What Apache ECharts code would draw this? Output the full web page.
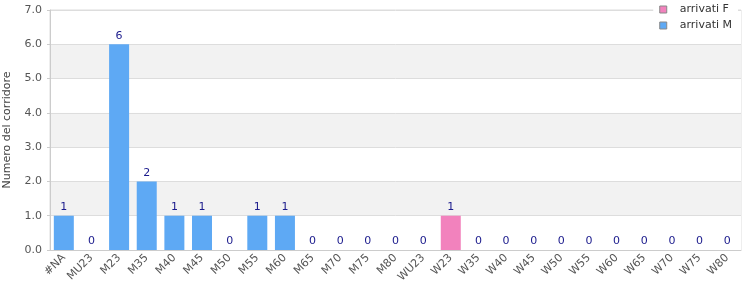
<!DOCTYPE html>
<html><head><meta charset="utf-8">
<script src="https://cdn.jsdelivr.net/npm/echarts@6/dist/echarts.min.js"></script>
<style>html,body{margin:0;padding:0;background:#fff}#c{width:750px;height:300px}</style>
</head><body><div id="c"></div>
<script>
var categories = ['#NA','MU23','M23','M35','M40','M45','M50','M55','M60','M65','M70','M75','M80','WU23','W23','W35','W40','W45','W50','W55','W60','W65','W70','W75','W80'];
var arrivatiM = [1,0,6,2,1,1,0,1,1,0,0,0,0,0,0,0,0,0,0,0,0,0,0,0,0];
var arrivatiF = [0,0,0,0,0,0,0,0,0,0,0,0,0,0,1,0,0,0,0,0,0,0,0,0,0];
var yTicks = [0,1,2,3,4,5,6,7];

var font = 'DejaVu Sans';
var chart = echarts.init(document.getElementById('c'), null, {renderer:'canvas'});
chart.setOption({
  animation:false,
  textStyle:{fontFamily:font},
  grid:{left:50,right:9,top:10,bottom:50,containLabel:false,outerBoundsMode:'none',show:true,borderColor:'#ddd',borderWidth:1,backgroundColor:'transparent'},
  legend:{
    data:['arrivati F','arrivati M'], orient:'vertical', right:12, top:1,
    backgroundColor:'#fff', padding:[3,6,3,6], itemGap:5,
    itemWidth:7, itemHeight:7, icon:'rect',
    itemStyle:{borderColor:'#888',borderWidth:1},
    textStyle:{fontFamily:font,fontSize:11,color:'#333',padding:[0,0,0,8]}
  },
  xAxis:{
    type:'category', data:categories,
    axisLine:{lineStyle:{color:'#ccc'}},
    axisTick:{show:false},
    axisLabel:{rotate:45,interval:0,fontFamily:font,fontSize:11,color:'#555',margin:6}
  },
  yAxis:{
    type:'value', min:yTicks[0], max:yTicks[yTicks.length-1], interval:1,
    name:'Numero del corridore', nameLocation:'middle', nameGap:37,
    nameTextStyle:{fontFamily:font,fontSize:11,color:'#444'},
    axisLine:{show:true,lineStyle:{color:'#ccc'}},
    axisTick:{show:true,length:3,lineStyle:{color:'#ccc'}},
    axisLabel:{fontFamily:font,fontSize:11,color:'#555',margin:8,formatter:function(v){return v.toFixed(1);}},
    splitLine:{lineStyle:{color:'#ddd'}},
    splitArea:{show:true,areaStyle:{color:['#ffffff','#f2f2f2']}}
  },
  series:[
    {name:'arrivati M', type:'bar', stack:'a', data:arrivatiM, barWidth:20,
     itemStyle:{color:'#5ea9f4'}},
    {name:'arrivati F', type:'bar', stack:'a', data:arrivatiF, barWidth:20,
     itemStyle:{color:'#f282bd'},
     label:{show:true,position:'top',distance:3,fontFamily:font,fontSize:11,color:'#1a1a8c',
       formatter:function(p){return String(arrivatiM[p.dataIndex]+arrivatiF[p.dataIndex]);}}}
  ]
});
</script></body></html>
